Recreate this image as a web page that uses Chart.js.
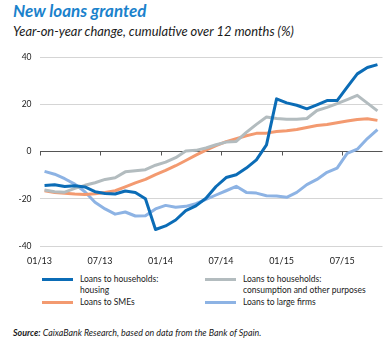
<!DOCTYPE html>
<html>
<head>
<meta charset="utf-8">
<script src="https://cdn.jsdelivr.net/npm/chart.js@4.4.1/dist/chart.umd.min.js"></script>
<style>
  html, body { margin: 0; padding: 0; background: #fff; }
  body { width: 390px; height: 338px; position: relative; overflow: hidden; font-family: Lato, "Noto Sans", sans-serif; color: #1a1a1a; }
  .title { position: absolute; left: 13px; top: 1px; font-size: 17px; line-height: 20px; font-weight: 700; font-style: italic; color: #1b82cc; }
  .subtitle { position: absolute; left: 13px; top: 23px; font-size: 12.9px; line-height: 16px; font-style: italic; }
  #chartBox { position: absolute; left: 0; top: 44px; width: 390px; height: 226px; }
  .legend-item { position: absolute; font-size: 8.5px; line-height: 11px; }
  .legend-item .swatch { position: absolute; width: 31px; height: 3px; top: 4px; }
  .legend-item .text { position: absolute; white-space: nowrap; }
  .source { position: absolute; left: 13px; top: 327px; font-size: 8.9px; line-height: 12px; font-style: italic; }
</style>
</head>
<body>
<div class="title">New loans granted</div>
<div class="subtitle">Year-on-year change, cumulative over 12 months (%)</div>
<div id="chartBox"><canvas id="loansChart" width="390" height="226"></canvas></div>
<div id="legend"></div>
<div class="source"><b>Source:</b> CaixaBank Research, based on data from the Bank of Spain.</div>

<script>
// Monthly observations, January 2013 to October 2015
const months = [
  "01/13", "02/13", "03/13", "04/13", "05/13", "06/13", "07/13", "08/13", "09/13", "10/13", "11/13", "12/13",
  "01/14", "02/14", "03/14", "04/14", "05/14", "06/14", "07/14", "08/14", "09/14", "10/14", "11/14", "12/14",
  "01/15", "02/15", "03/15", "04/15", "05/15", "06/15", "07/15", "08/15", "09/15", "10/15",
];

const tickLabels = ["01/13", "07/13", "01/14", "07/14", "01/15", "07/15"];

const housing = [
  -14.4, -14.1, -14.8, -14.5, -15, -17, -17.8, -18, -16.7, -17.3, -20, -33,
  -31.5, -29, -25, -23, -19.8, -14.8, -11, -9.8, -7, -3.5, 2.8, 22.3,
  20.6, 19.6, 18.1, 19.8, 21.6, 21.6, 27.3, 32.9, 35.6, 36.8,
];

const consumption = [
  -16.3, -17, -17.2, -15.6, -14.3, -13.2, -11.8, -11.1, -8.6, -8.1, -7.7, -5.8,
  -4.5, -2.6, 0.2, 0.5, 1.5, 2.9, 4, 4.3, 8.1, 11.5, 14.6, 14,
  13.7, 13.7, 14, 17.4, 18.7, 20.3, 22, 23.8, 20.5, 17.2,
];

const smes = [
  -16.6, -17.3, -17.7, -18, -18.2, -17.9, -17.3, -16.6, -15, -13.3, -11.8, -9.8,
  -8, -6, -3.8, -1.5, 0.6, 2.5, 4.2, 5.4, 6.7, 7.7, 7.8, 8.5,
  8.8, 9.3, 10.2, 11, 11.5, 12.2, 12.9, 13.6, 13.9, 13.2,
];

const largeFirms = [
  -8.4, -9.6, -11.5, -13.8, -17, -21.5, -24.3, -26.5, -25.6, -27.3, -27.2, -24.3,
  -22.8, -23.6, -23.2, -22.1, -20.3, -18.4, -16.6, -14.7, -17.3, -17.6, -18.7, -18.8,
  -19.4, -17.3, -14, -11.8, -8.8, -7, -0.8, 1, 5.5, 9.3,
];

const series = [
  { label: ["Loans to households:", "housing"], values: housing, color: "#0b6cb6", left: 42, top: 274 },
  { label: ["Loans to households:", "consumption and other purposes"], values: consumption, color: "#b3bcbf", left: 205, top: 274 },
  { label: ["Loans to SMEs"], values: smes, color: "#f39a70", left: 42, top: 297 },
  { label: ["Loans to large firms"], values: largeFirms, color: "#8db3e4", left: 205, top: 297 },
];

function toPoints(values) {
  return values.map((value, index) => ({ x: index, y: value }));
}

// small tick marks sitting on the zero line
const zeroLineTicks = {
  id: "zeroLineTicks",
  beforeDatasetsDraw(chart) {
    const { ctx, scales } = chart;
    const y0 = Math.round(scales.y.getPixelForValue(0)) + 0.5;
    ctx.save();
    ctx.strokeStyle = "#555";
    ctx.lineWidth = 1;
    scales.x.ticks.forEach((tick) => {
      const px = Math.round(scales.x.getPixelForValue(tick.value)) + 0.5;
      ctx.beginPath();
      ctx.moveTo(px, y0 - 1);
      ctx.lineTo(px, y0 + 3);
      ctx.stroke();
    });
    ctx.restore();
  },
};

function renderLegend() {
  const legend = document.querySelector("#legend");
  series.forEach((item) => {
    const el = document.createElement("div");
    el.className = "legend-item";
    el.style.left = `${item.left}px`;
    el.style.top = `${item.top}px`;
    el.innerHTML = `<div class="swatch" style="background:${item.color}"></div>` +
      `<div class="text" style="left:38px">${item.label.join("<br>")}</div>`;
    legend.appendChild(el);
  });
}

new Chart(document.querySelector("#loansChart"), {
  type: "line",
  data: {
    datasets: series.map((item) => ({
      label: item.label.join(" "),
      data: toPoints(item.values),
      borderColor: item.color,
      backgroundColor: item.color,
      borderWidth: 3,
      tension: 0,
      pointRadius: 0,
      borderJoinStyle: "round",
      fill: false,
    })),
  },
  options: {
    responsive: false,
    animation: false,
    layout: { padding: { top: 9, right: 7.5, left: 0, bottom: 0 } },
    plugins: {
      legend: { display: false },
      tooltip: { enabled: false },
    },
    scales: {
      x: {
        type: "linear",
        min: -0.5,
        max: months.length - 0.5,
        afterBuildTicks: (scale) => {
          scale.ticks = tickLabels.map((label) => ({ value: months.indexOf(label) - 0.5 }));
        },
        ticks: {
          autoSkip: false,
          maxRotation: 0,
          padding: 2,
          color: "#1a1a1a",
          font: { family: "Lato", size: 9 },
          callback: (value) => months[Math.round(value + 0.5)],
        },
        grid: { display: false },
        border: { display: false },
        afterFit: (scale) => { scale.height = 24; },
      },
      y: {
        min: -40,
        max: 40,
        ticks: {
          stepSize: 20,
          padding: 8,
          color: "#1a1a1a",
          font: { family: "Lato", size: 8.5 },
        },
        grid: {
          drawTicks: false,
          color: (ctx) => (ctx.tick.value === 0 ? "#555555" : "#d5d5d5"),
          lineWidth: 1,
        },
        border: { display: false },
        afterFit: (scale) => { scale.width = 39.5; },
      },
    },
  },
  plugins: [zeroLineTicks],
});

renderLegend();
</script>
</body>
</html>
